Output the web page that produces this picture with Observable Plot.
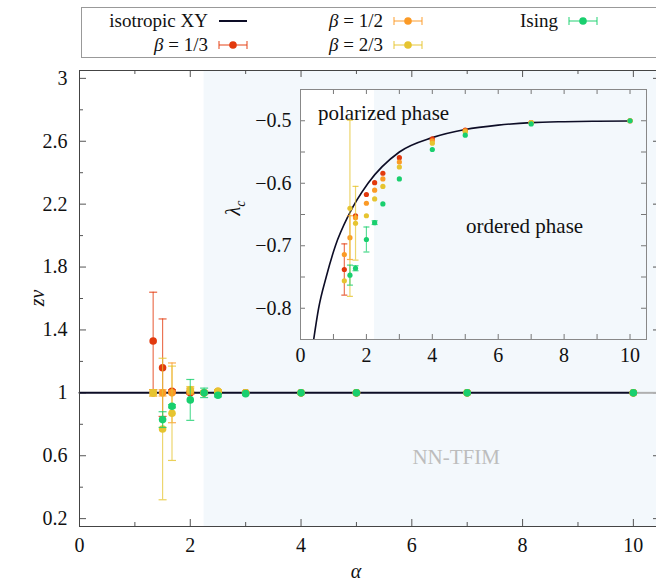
<!DOCTYPE html>
<html><head><meta charset="utf-8">
<script src="https://cdn.jsdelivr.net/npm/d3@7"></script>
<script src="https://cdn.jsdelivr.net/npm/@observablehq/plot@0.6"></script>
<style>
html,body{margin:0;padding:0;background:#fff;overflow:hidden}
#wrap{position:relative;width:656px;height:583px;overflow:hidden;font-family:"Liberation Serif","Times New Roman",serif;color:#111}
.abs{position:absolute;white-space:nowrap;line-height:1}
#wrap svg{position:absolute;max-width:none !important}
</style></head><body><div id="wrap"></div>
<script>
// ---------- data ----------
const seriesNames = ["isotropic XY", "β = 1/3", "β = 1/2", "β = 2/3", "Ising"];
const colorB13 = "#e2390d", colorB12 = "#fb9a26", colorB23 = "#e6c430", colorIsing = "#19cf6e", colorXY = "#0d0d26";

// main panel: z*nu vs alpha
const alphaB13 = [1.33, 1.5, 1.67, 2, 2.25, 2.5, 3, 4, 5, 7, 10];
const znuB13    = [1.33, 1.16, 1.01, 1.0, 1.0, 1.0, 1.0, 1.0, 1.0, 1.0, 1.0];
const znuB13Err = [0.31, 0.31, 0.01, 0.01, 0.01, 0.01, 0, 0, 0, 0, 0];
const alphaB12 = [1.33, 1.5, 1.67, 2, 2.25, 2.5, 3, 4, 5, 7, 10];
const znuB12    = [1.0, 1.0, 1.0, 1.01, 1.0, 1.01, 1.0, 1.0, 1.0, 1.0, 1.0];
const znuB12Err = [0.02, 0.02, 0.19, 0.02, 0.01, 0.01, 0, 0, 0, 0, 0];
const alphaB23 = [1.33, 1.5, 1.67, 2, 2.25, 2.5, 3, 4, 5, 7, 10];
const znuB23    = [1.0, 0.77, 0.87, 1.02, 1.0, 1.01, 1.0, 1.0, 1.0, 1.0, 1.0];
const znuB23Err = [0.02, 0.45, 0.30, 0.02, 0.01, 0.01, 0, 0, 0, 0, 0];
const alphaIsing = [1.5, 1.67, 2, 2.25, 2.5, 3, 4, 5, 7, 10];
const znuIsing    = [0.83, 0.915, 0.955, 1.0, 0.985, 0.995, 1.0, 1.0, 1.0, 1.0];
const znuIsingErr = [0.05, 0.01, 0.13, 0.03, 0.01, 0, 0, 0, 0, 0];
const alphaXYMain = [0, 10];
const znuXYMain = [1, 1];
const nnStart = 2.25;       // NN-TFIM region starts
const nnLabel = "NN-TFIM";

// inset: lambda_c vs alpha
const alphaInB13 = [1.33, 1.67, 2, 2.25, 2.5, 3, 4, 5, 7, 10];
const lamB13     = [-0.738, -0.652, -0.618, -0.599, -0.584, -0.559, -0.529, -0.515, -0.503, -0.5];
const lamB13Err  = [0.041, 0, 0, 0, 0, 0, 0, 0, 0, 0];
const alphaInB12 = [1.33, 1.5, 1.67, 2, 2.25, 2.5, 3, 4, 5, 7, 10];
const lamB12     = [-0.714, -0.687, -0.655, -0.632, -0.611, -0.593, -0.566, -0.532, -0.516, -0.503, -0.5];
const lamB12Err  = [0, 0.035, 0, 0, 0, 0, 0, 0, 0, 0, 0];
const alphaInB23 = [1.33, 1.5, 1.67, 2, 2.25, 2.5, 3, 4, 5, 7, 10];
const lamB23     = [-0.756, -0.640, -0.664, -0.652, -0.625, -0.605, -0.574, -0.536, -0.518, -0.503, -0.5];
const lamB23Err  = [0, 0.141, 0.059, 0, 0, 0, 0, 0, 0, 0, 0];
const alphaInIsing = [1.5, 1.67, 2, 2.25, 2.5, 3, 4, 5, 7, 10];
const lamIsing     = [-0.747, -0.736, -0.690, -0.663, -0.633, -0.593, -0.546, -0.523, -0.505, -0.5];
const lamIsingErr  = [0.016, 0.004, 0.02, 0.003, 0, 0, 0, 0, 0, 0];
const alphaXY  = [0.40, 0.55, 0.78, 1.06, 1.47, 2.05, 3.0, 4, 5, 6, 7, 8, 9, 10];
const lambdaXY = [-0.85, -0.80, -0.75, -0.70, -0.65, -0.60, -0.55, -0.527, -0.514, -0.507, -0.503, -0.5015, -0.5008, -0.5004];
const insetTexts = ["polarized phase", "ordered phase"];

// ticks
const mainXTicks = [0, 2, 4, 6, 8, 10];
const mainXMinor = [1, 3, 5, 7, 9];
const mainYTicks = [0.2, 0.6, 1, 1.4, 1.8, 2.2, 2.6, 3];
const mainYMinor = [0.4, 0.8, 1.2, 1.6, 2.0, 2.4, 2.8];
const insetXTicks = [0, 2, 4, 6, 8, 10];
const insetXMinor = [1, 3, 5, 7, 9];
const insetYTicks = [-0.8, -0.7, -0.6, -0.5];
const insetYMinor = [-0.75, -0.65, -0.55];

// ---------- helpers ----------
const rows = (a, v, e) => a.map((x, i) => ({a: x, v: v[i], e: e[i]}));
const cap = w => ({draw(ctx) { ctx.moveTo(-w, 0); ctx.lineTo(w, 0); }});
function seriesMarks(data, color, r, capW) {
  const err = data.filter(d => d.e > 0);
  return [
    Plot.ruleX(err, {x: "a", y1: d => d.v - d.e, y2: d => d.v + d.e, stroke: color, strokeOpacity: 0.7, strokeWidth: 1.2}),
    Plot.dot(err, {x: "a", y: d => d.v - d.e, symbol: cap(capW), stroke: color, strokeOpacity: 0.8, strokeWidth: 1.2, fill: "none"}),
    Plot.dot(err, {x: "a", y: d => d.v + d.e, symbol: cap(capW), stroke: color, strokeOpacity: 0.8, strokeWidth: 1.2, fill: "none"}),
    Plot.dot(data, {x: "a", y: "v", r, fill: color, stroke: "none"})
  ];
}
const wrap = document.getElementById("wrap");
const fontFamily = "'Liberation Serif', 'Times New Roman', serif";
const shade = "#f3f8fc";

// ---------- main plot ----------
const W = 660, H = 583, mT = 70, mB = 57, mL = 79, mR = 0;
const innerW = W - mL - mR, innerH = H - mT - mB;
const tickCol = "#555";
const main = Plot.plot({
  width: W, height: H, marginTop: mT, marginBottom: mB, marginLeft: mL, marginRight: mR,
  x: {domain: [0, 10.49], label: null}, y: {domain: [0.15, 3.05], label: null},
  style: {fontFamily, fontSize: "20px", background: "transparent", color: "#111", maxWidth: "none"},
  marks: [
    Plot.rect([nnStart], {x1: d => d, x2: 10.49, fill: shade}),
    Plot.tickX(mainXTicks, {x: d => d, insetTop: innerH - 7, stroke: tickCol}),
    Plot.tickX(mainXTicks, {x: d => d, insetBottom: innerH - 7, stroke: tickCol}),
    Plot.tickX(mainXMinor, {x: d => d, insetTop: innerH - 4, stroke: tickCol}),
    Plot.tickX(mainXMinor, {x: d => d, insetBottom: innerH - 4, stroke: tickCol}),
    Plot.tickY(mainYTicks, {y: d => d, insetRight: innerW - 7, stroke: tickCol}),
    Plot.tickY(mainYTicks, {y: d => d, insetLeft: innerW - 7, stroke: tickCol}),
    Plot.tickY(mainYMinor, {y: d => d, insetRight: innerW - 4, stroke: tickCol}),
    Plot.tickY(mainYMinor, {y: d => d, insetLeft: innerW - 4, stroke: tickCol}),
    Plot.axisX(mainXTicks, {tickSize: 0, tickPadding: 11, tickFormat: d => String(d), fontSize: 20, label: null}),
    Plot.axisY(mainYTicks, {tickSize: 0, tickPadding: 12, tickFormat: d => d3.format("~g")(d), fontSize: 20, label: null}),
    Plot.text([nnLabel], {x: 6.8, y: 0.59, text: d => d, fill: "#bdbdbd", fontSize: 21}),
    Plot.ruleY([1], {x1: 10, x2: 10.49, stroke: "#b0b0b0", strokeWidth: 2}),
    Plot.line(alphaXYMain.map((a, i) => ({a, v: znuXYMain[i]})), {x: "a", y: "v", stroke: colorXY, strokeWidth: 2}),
    ...seriesMarks(rows(alphaB13, znuB13, znuB13Err), colorB13, 3.8, 4),
    ...seriesMarks(rows(alphaB12, znuB12, znuB12Err), colorB12, 3.8, 4),
    ...seriesMarks(rows(alphaB23, znuB23, znuB23Err), colorB23, 3.8, 4),
    ...seriesMarks(rows(alphaIsing, znuIsing, znuIsingErr), colorIsing, 3.8, 4),
    Plot.frame({stroke: "#444"})
  ]
});
main.style.left = "0px"; main.style.top = "0px"; main.style.maxWidth = "none";
wrap.appendChild(main);

// ---------- inset ----------
const iW = 456, iH = 300, iL = 100, iR = 10, iT = 10, iB = 40;
const iInW = iW - iL - iR, iInH = iH - iT - iB;
const inset = Plot.plot({
  width: iW, height: iH, marginTop: iT, marginBottom: iB, marginLeft: iL, marginRight: iR,
  x: {domain: [0, 10.5], label: null}, y: {domain: [-0.85, -0.45], label: null},
  style: {fontFamily, fontSize: "20px", background: "transparent", color: "#111", maxWidth: "none"},
  marks: [
    Plot.rect([0], {x1: d => d, x2: nnStart, fill: "white"}),
    Plot.rect([nnStart], {x1: d => d, x2: 10.5, fill: shade}),
    Plot.tickX(insetXTicks.concat(insetXMinor), {x: d => d, insetTop: iInH - 5, stroke: "#777"}),
    Plot.tickX(insetXTicks.concat(insetXMinor), {x: d => d, insetBottom: iInH - 5, stroke: "#777"}),
    Plot.tickY(insetYTicks.concat(insetYMinor), {y: d => d, insetRight: iInW - 5, stroke: "#777"}),
    Plot.tickY(insetYTicks.concat(insetYMinor), {y: d => d, insetLeft: iInW - 5, stroke: "#777"}),
    Plot.axisX(insetXTicks, {tickSize: 0, tickPadding: 8, tickFormat: d => String(d), fontSize: 20, label: null}),
    Plot.axisY(insetYTicks, {tickSize: 0, tickPadding: 9, tickFormat: d => "\u2212" + Math.abs(d).toFixed(1), fontSize: 20, label: null}),
    Plot.text([insetTexts[0]], {x: 2.52, y: -0.4884, text: d => d, fontSize: 21}),
    Plot.text([insetTexts[1]], {x: 6.8, y: -0.669, text: d => d, fontSize: 21}),
    Plot.line(alphaXY.map((a, i) => ({a, v: lambdaXY[i]})), {x: "a", y: "v", curve: "monotone-x", stroke: colorXY, strokeWidth: 1.6, clip: true}),
    ...seriesMarks(rows(alphaInB13, lamB13, lamB13Err), colorB13, 2.6, 3),
    ...seriesMarks(rows(alphaInB12, lamB12, lamB12Err), colorB12, 2.6, 3),
    ...seriesMarks(rows(alphaInB23, lamB23, lamB23Err), colorB23, 2.6, 3),
    ...seriesMarks(rows(alphaInIsing, lamIsing, lamIsingErr), colorIsing, 2.6, 3),
    Plot.frame({stroke: "#888"})
  ]
});
inset.style.left = "200px"; inset.style.top = "79px"; inset.style.maxWidth = "none";
wrap.appendChild(inset);

// ---------- axis titles ----------
function addText(html, x, y, extra) {
  const d = document.createElement("div");
  d.className = "abs"; d.innerHTML = html;
  d.style.left = x + "px"; d.style.top = y + "px";
  d.style.fontSize = "20px";
  d.style.lineHeight = "0.9";
  d.style.transform = "translate(-50%,-50%)" + (extra || "");
  wrap.appendChild(d);
  return d;
}
addText("<i>z&nu;</i>", 37, 298, " rotate(-90deg)");
addText("<i>&alpha;</i>", 356, 571);
addText("<i>&lambda;</i><sub style='font-size:14px'><i>c</i></sub>", 236, 208, " rotate(-90deg)");

// ---------- legend ----------
const legend = document.createElement("div");
legend.className = "abs";
Object.assign(legend.style, {left: "81px", top: "7px", width: "600px", height: "49px", border: "1px solid #999", background: "#fff"});
wrap.appendChild(legend);
function sample(color, isLine) {
  if (isLine) return `<svg width="30" height="12" style="position:absolute"><line x1="1" x2="29" y1="6" y2="6" stroke="${color}" stroke-width="2"/></svg>`;
  return `<svg width="30" height="12" style="position:absolute"><g stroke="${color}" stroke-opacity="0.8" stroke-width="1.2"><line x1="1" x2="29" y1="6" y2="6"/><line x1="1" x2="1" y1="2" y2="10"/><line x1="29" x2="29" y1="2" y2="10"/></g><circle cx="15" cy="6" r="3.8" fill="${color}"/></svg>`;
}
const legendItems = [
  {label: "isotropic XY", color: colorXY, line: true, right: 126, cy: 13},
  {label: "<i>β</i> = 1/2", color: colorB12, line: false, right: 301, cy: 13},
  {label: "Ising", color: colorIsing, line: false, right: 476, cy: 13},
  {label: "<i>β</i> = 1/3", color: colorB13, line: false, right: 126, cy: 37},
  {label: "<i>β</i> = 2/3", color: colorB23, line: false, right: 301, cy: 37}
];
for (const it of legendItems) {
  const t = document.createElement("div");
  t.className = "abs"; t.innerHTML = it.label;
  Object.assign(t.style, {right: (600 - it.right) + "px", top: (it.cy - 10) + "px", fontSize: "19px"});
  legend.appendChild(t);
  const s = document.createElement("div");
  s.className = "abs"; s.innerHTML = sample(it.color, it.line);
  Object.assign(s.style, {left: (it.right + 10) + "px", top: (it.cy - 6) + "px", width: "30px", height: "12px"});
  legend.appendChild(s);
}
</script></body></html>
